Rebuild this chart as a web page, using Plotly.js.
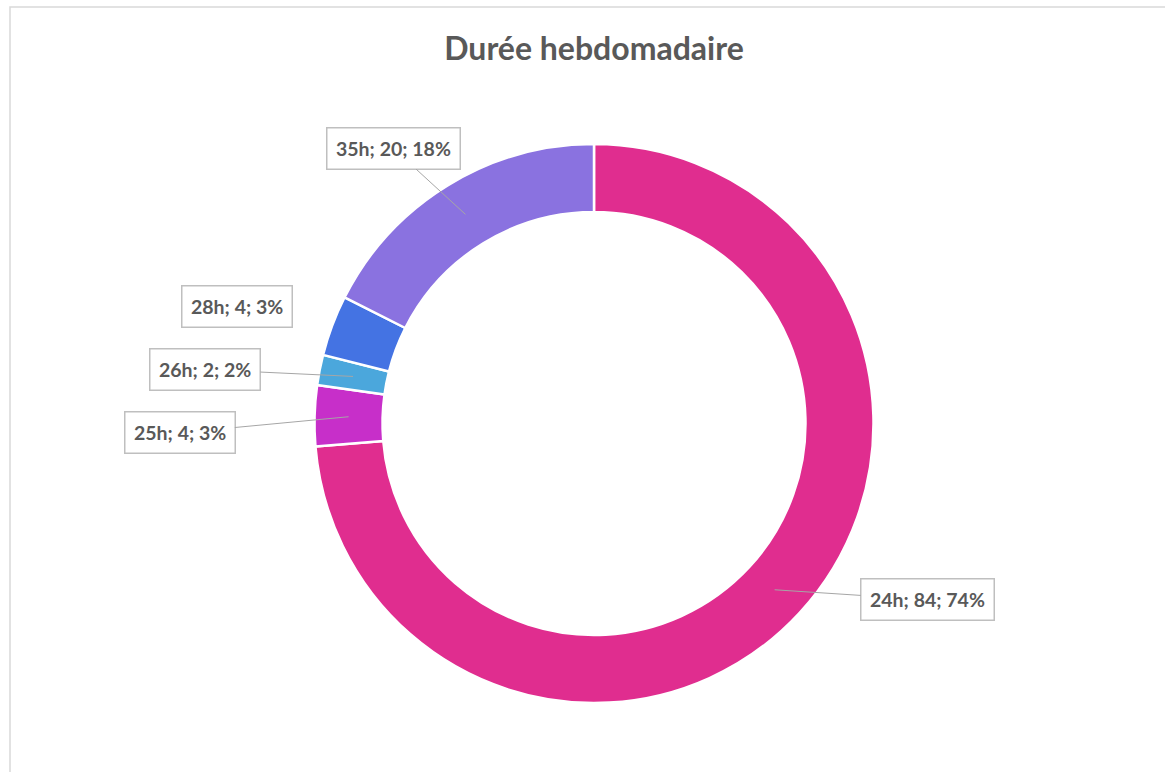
<!DOCTYPE html>
<html>
<head>
<meta charset="utf-8">
<script src="https://cdn.plot.ly/plotly-3.0.1.min.js"></script>
<style>
html,body{margin:0;padding:0;background:#fff;}
#chart{width:1165px;height:772px;}
</style>
</head>
<body>
<div id="chart"></div>
<script>
// Data
const categories = ["24h", "25h", "26h", "28h", "35h"];
const counts = [84, 4, 2, 4, 20];
const percentLabels = ["74%", "3%", "2%", "3%", "18%"];
const sliceColors = ["#E02D8F", "#C72FC9", "#4BA7DC", "#4473E3", "#8A72E0"];

// Layout geometry (pixels)
const W = 1165, H = 772;
const cx = 594, cy = 423.5, R = 279.5, Rin = 211.5;
const hole = Rin / R;
const rMid = (R + Rin) / 2;

// label offsets (pixels from leader anchor to label centre) and whether a leader line shows
const labelOffsets = [[153, 10], [-169, 16], [-148, -7], [-127, -31], [-72, -66]];
const showLeader = [true, true, true, false, true];

const total = counts.reduce((a, b) => a + b, 0);
let cum = 0;
const annotations = [];
counts.forEach((v, i) => {
  const mid = (cum + v / 2) / total * 2 * Math.PI;
  cum += v;
  const px = cx + rMid * Math.sin(mid);
  const py = cy - rMid * Math.cos(mid);
  annotations.push({
    xref: "paper", yref: "paper",
    x: px / W, y: 1 - py / H,
    ax: labelOffsets[i][0], ay: labelOffsets[i][1],
    showarrow: true, arrowhead: 0, arrowwidth: 1,
    arrowcolor: showLeader[i] ? "#A6A6A6" : "rgba(0,0,0,0)",
    text: "<b>" + categories[i] + "; " + counts[i] + "; " + percentLabels[i] + "</b>",
    font: {family: "Lato, 'Open Sans', sans-serif", size: 19.5, color: "#595959"},
    bgcolor: "#FFFFFF", bordercolor: "#BFBFBF", borderwidth: 1.5, borderpad: 8.5
  });
});

const trace = {
  type: "pie",
  labels: categories,
  values: counts,
  hole: hole,
  sort: false,
  direction: "clockwise",
  rotation: 0,
  textinfo: "none",
  hoverinfo: "label+value+percent",
  marker: {colors: sliceColors, line: {color: "#FFFFFF", width: 2.5}},
  domain: {x: [(cx - R) / W, (cx + R) / W], y: [1 - (cy + R) / H, 1 - (cy - R) / H]},
  showlegend: false
};

const layout = {
  width: W, height: H,
  margin: {l: 0, r: 0, t: 0, b: 0},
  paper_bgcolor: "#FFFFFF",
  title: {
    text: "<b>Durée hebdomadaire</b>",
    font: {family: "Lato, 'Open Sans', sans-serif", size: 32, color: "#595959"},
    x: 594 / W, xanchor: "center", y: 1 - 49 / H, yanchor: "middle"
  },
  annotations: annotations,
  shapes: [{
    type: "rect", xref: "paper", yref: "paper",
    x0: 10 / W, x1: 1.02, y0: -0.02, y1: 1 - 7 / H,
    line: {color: "#D9D9D9", width: 1.5}, fillcolor: "rgba(0,0,0,0)", layer: "below"
  }]
};

Plotly.newPlot("chart", [trace], layout, {displayModeBar: false, staticPlot: true});
</script>
</body>
</html>
